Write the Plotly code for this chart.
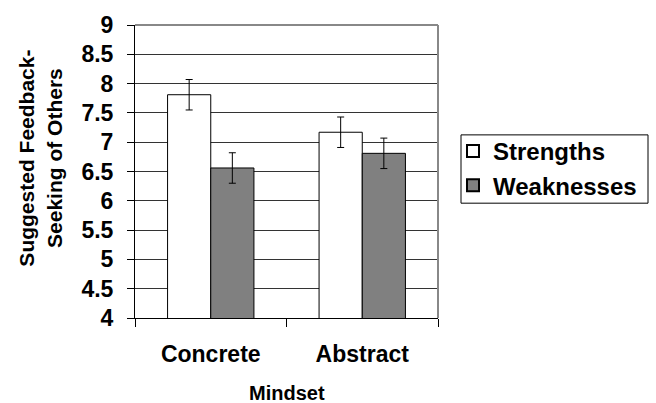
import plotly.graph_objects as go

categories = ["Concrete", "Abstract"]
strengths = [7.81, 7.17]
weaknesses = [6.56, 6.81]
strengths_err = [0.26, 0.26]
weaknesses_err = [0.26, 0.26]
y_ticks = [4, 4.5, 5, 5.5, 6, 6.5, 7, 7.5, 8, 8.5, 9]
y_tick_labels = ["4", "4.5", "5", "5.5", "6", "6.5", "7", "7.5", "8", "8.5", "9"]

FONT = "Arial, Liberation Sans, Helvetica, sans-serif"

fig = go.Figure()
fig.add_trace(go.Bar(
    name="Strengths", x=categories, y=strengths,
    marker=dict(color="white", line=dict(color="black", width=1)),
    error_y=dict(type="data", array=strengths_err, color="black", thickness=1, width=3.5),
))
fig.add_trace(go.Bar(
    name="Weaknesses", x=categories, y=weaknesses,
    marker=dict(color="#808080", line=dict(color="black", width=1)),
    error_y=dict(type="data", array=weaknesses_err, color="black", thickness=1, width=3.5),
))

L, T, W, H = 135, 22, 303, 296

def px(x):
    return (x - L) / W

def py(y):
    return (T + H - y) / H

fig.update_layout(
    width=656, height=403,
    margin=dict(l=L, r=656 - L - W, t=T, b=403 - T - H),
    paper_bgcolor="white", plot_bgcolor="white",
    barmode="group", bargap=0.43, bargroupgap=0,
    font=dict(family=FONT, color="black", weight="bold"),
    showlegend=True,
    legend=dict(
        x=px(453), y=py(127), xanchor="left", yanchor="top",
        borderwidth=0, bgcolor="rgba(0,0,0,0)",
        font=dict(family=FONT, size=24, color="black", weight="bold"),
        tracegroupgap=0, itemsizing="constant",
    ),
    xaxis=dict(
        showline=True, linecolor="black", linewidth=1,
        ticks="outside", ticklen=8, tickcolor="black", tickson="boundaries",
        tickfont=dict(family=FONT, size=23, weight="bold"),
        ticklabelstandoff=15,
        showgrid=False, zeroline=False,
    ),
    yaxis=dict(
        range=[4, 9], tickvals=y_ticks, ticktext=y_tick_labels,
        showline=True, linecolor="black", linewidth=1,
        ticks="outside", ticklen=7, tickcolor="black",
        tickfont=dict(family=FONT, size=23, weight="bold"),
        ticklabelstandoff=9,
        showgrid=True, gridcolor="#333333", gridwidth=1,
        zeroline=False,
    ),
    annotations=[
        dict(
            text="Suggested Feedback-<br>Seeking of Others",
            xref="paper", yref="paper", x=px(40), y=py(157),
            xanchor="center", yanchor="middle", textangle=-90, showarrow=False,
            font=dict(family=FONT, size=21, weight="bold", color="black"),
        ),
        dict(
            text="Mindset",
            xref="paper", yref="paper", x=px(287), y=py(394),
            xanchor="center", yanchor="middle", showarrow=False,
            font=dict(family=FONT, size=20, weight="bold", color="black"),
        ),
    ],
    shapes=[
        dict(type="line", xref="paper", yref="paper", x0=0, x1=1, y0=1, y1=1,
             line=dict(color="#888888", width=2)),
        dict(type="line", xref="paper", yref="paper", x0=1, x1=1, y0=0, y1=1,
             line=dict(color="#888888", width=2)),
        dict(type="rect", xref="paper", yref="paper", x0=px(461), x1=px(648),
             y0=py(202), y1=py(133), line=dict(color="black", width=1)),
    ],
)

fig.write_html("out.html", post_script="document.body.style.margin='0';",
               config={"displayModeBar": False})
